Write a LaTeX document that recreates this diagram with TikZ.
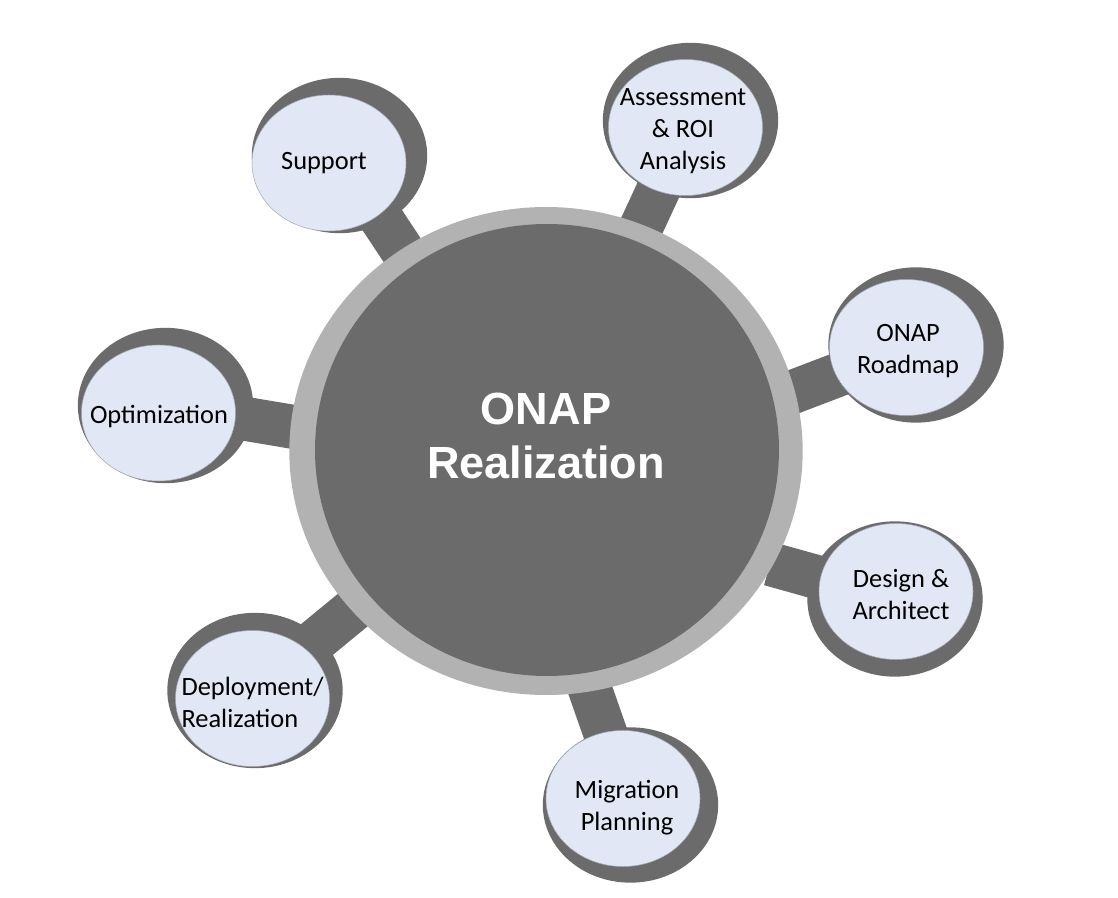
\documentclass[tikz,border=0pt]{standalone}
\usepackage{fontspec}
\setmainfont{Carlito}
\newfontfamily\hubfont{Liberation Sans}
\usetikzlibrary{shapes.geometric,backgrounds}
\definecolor{spokegray}{RGB}{107,107,107}
\definecolor{ringgray}{RGB}{178,178,178}
\definecolor{paleblue}{RGB}{225,231,244}
\definecolor{edgegray}{RGB}{165,170,180}
\begin{document}
\begin{tikzpicture}[x=0.75pt,y=-0.75pt,
  backdisc/.style={ellipse,fill=spokegray,inner sep=0pt,minimum width=131.5pt,minimum height=116.5pt},
  topicdisc/.style={ellipse,fill=paleblue,draw=edgegray,line width=0.4pt,inner sep=0pt,minimum width=115.5pt,minimum height=102pt},
  topictext/.style={align=center,inner sep=0pt,font=\fontsize{19.8}{24}\selectfont},
  hubtext/.style={align=center,inner sep=0pt,text=white,font=\hubfont\bfseries\fontsize{33.8}{40.5}\selectfont},
  spoke/.style={draw=spokegray,line width=33pt}]
  \useasboundingbox (0,0) rectangle (1118,898);
  \node[ellipse,fill=ringgray,inner sep=0pt,minimum width=385pt,minimum height=366pt] (ring) at (546,451) {};
  \node[ellipse,fill=spokegray,inner sep=0pt,minimum width=348pt,minimum height=339pt] (hub) at (547,450) {};
  \node[hubtext] (hublabel) at (546,435.5) {ONAP\\Realization};
  % discs behind the topics
  \node[backdisc] (assessmentbg) at (690.5,120.5) {};
  \node[backdisc] (roadmapbg) at (916,345) {};
  \node[backdisc] (designbg) at (895,599) {};
  \node[backdisc] (migrationbg) at (630.5,805) {};
  \node[backdisc] (deploymentbg) at (255,690.5) {};
  \node[backdisc] (optimizationbg) at (165.5,405.5) {};
  \node[backdisc] (supportbg) at (339.5,155.5) {};
  % topics
  \node[topicdisc] (assessment) at (685.5,127.5) {};
  \node[topicdisc] (roadmap) at (906.5,347.5) {};
  \node[topicdisc] (design) at (896,591.5) {};
  \node[topicdisc] (migration) at (623,798.5) {};
  \node[topicdisc] (deployment) at (252.5,698.5) {};
  \node[topicdisc] (optimization) at (158.5,413) {};
  \node[topicdisc] (support) at (329,163) {};
  \node[topictext] (assessmentlabel) at (683,131) {Assessment\\\& ROI\\Analysis};
  \node[topictext] (roadmaplabel) at (908,351) {ONAP\\Roadmap};
  \node[topictext] (designlabel) at (901,595) {Design \&\\Architect};
  \node[topictext] (migrationlabel) at (627,808) {Migration\\Planning};
  \node[topictext,align=left] (deploymentlabel) at (252.5,702.5) {Deployment/\\Realization};
  \node[topictext] (optimizationlabel) at (159,417) {Optimization};
  \node[topictext] (supportlabel) at (324,163) {Support};
  % free ends of the spokes, under the ring
  \coordinate (assessmentend) at (634.7,241);
  \coordinate (roadmapend) at (785,395);
  \coordinate (designend) at (770,564);
  \coordinate (migrationend) at (586,678);
  \coordinate (deploymentend) at (365,600);
  \coordinate (optimizationend) at (300,428);
  \coordinate (supportend) at (406,256);
  \begin{scope}[on background layer]
    \draw[spoke] (assessmentbg.center) -- (assessmentend);
    \draw[spoke] (roadmapbg.center) -- (roadmapend);
    \draw[spoke] (designbg.center) -- (designend);
    \draw[spoke] (migrationbg.center) -- (migrationend);
    \draw[spoke] (deploymentbg.center) -- (deploymentend);
    \draw[spoke] (optimizationbg.center) -- (optimizationend);
    \draw[spoke] (supportbg.center) -- (supportend);
  \end{scope}
\end{tikzpicture}
\end{document}
